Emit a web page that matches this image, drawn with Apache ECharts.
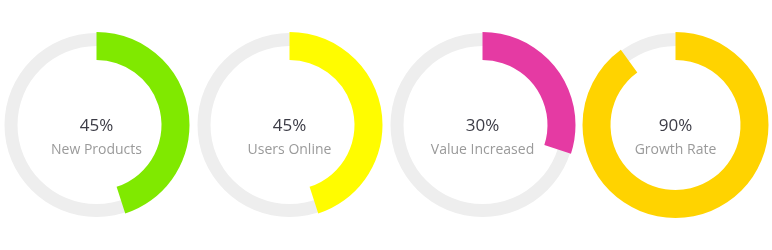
<!DOCTYPE html>
<html><head><meta charset="utf-8">
<script src="https://cdn.jsdelivr.net/npm/echarts@6/dist/echarts.min.js"></script>
<style>html,body{margin:0;padding:0;background:#fff}#c{width:772px;height:250px}</style>
</head><body><div id="c"></div>
<script>
const categories = ['New Products', 'Users Online', 'Value Increased', 'Growth Rate'];
const values = [45, 45, 30, 90];
const colors = ['#80e900', '#fffc00', '#e53aa3', '#ffd300'];
const centersX = ['12.5%', '37.5%', '62.5%', '87.5%'];

const chart = echarts.init(document.getElementById('c'));
const series = [];
categories.forEach((name, i) => {
  series.push({
    type: 'pie', silent: true, z: 1,
    center: [centersX[i], 125], radius: [79, 92],
    startAngle: 90, clockwise: true,
    label: { show: false }, labelLine: { show: false },
    itemStyle: { color: '#eeeeee' },
    data: [{ value: 100 }]
  });
  series.push({
    type: 'pie', silent: true, z: 2,
    center: [centersX[i], 125], radius: [65, 93],
    startAngle: 90, clockwise: true,
    labelLine: { show: false },
    data: [
      { value: values[i], name: name, itemStyle: { color: colors[i] },
        label: {
          show: true, position: 'center',
          formatter: '{v|' + values[i] + '%}\n{n|' + name + '}',
          padding: [26, 0, 0, 0],
          rich: {
            v: { fontSize: 17, lineHeight: 24, color: '#3c3c46', fontFamily: 'Open Sans' },
            n: { fontSize: 14, lineHeight: 24, color: '#9a9a9a', fontFamily: 'Open Sans' }
          }
        } },
      { value: 100 - values[i], name: '', itemStyle: { color: 'rgba(0,0,0,0)' }, label: { show: false } }
    ]
  });
});
chart.setOption({ animation: false, series: series });
</script></body></html>
